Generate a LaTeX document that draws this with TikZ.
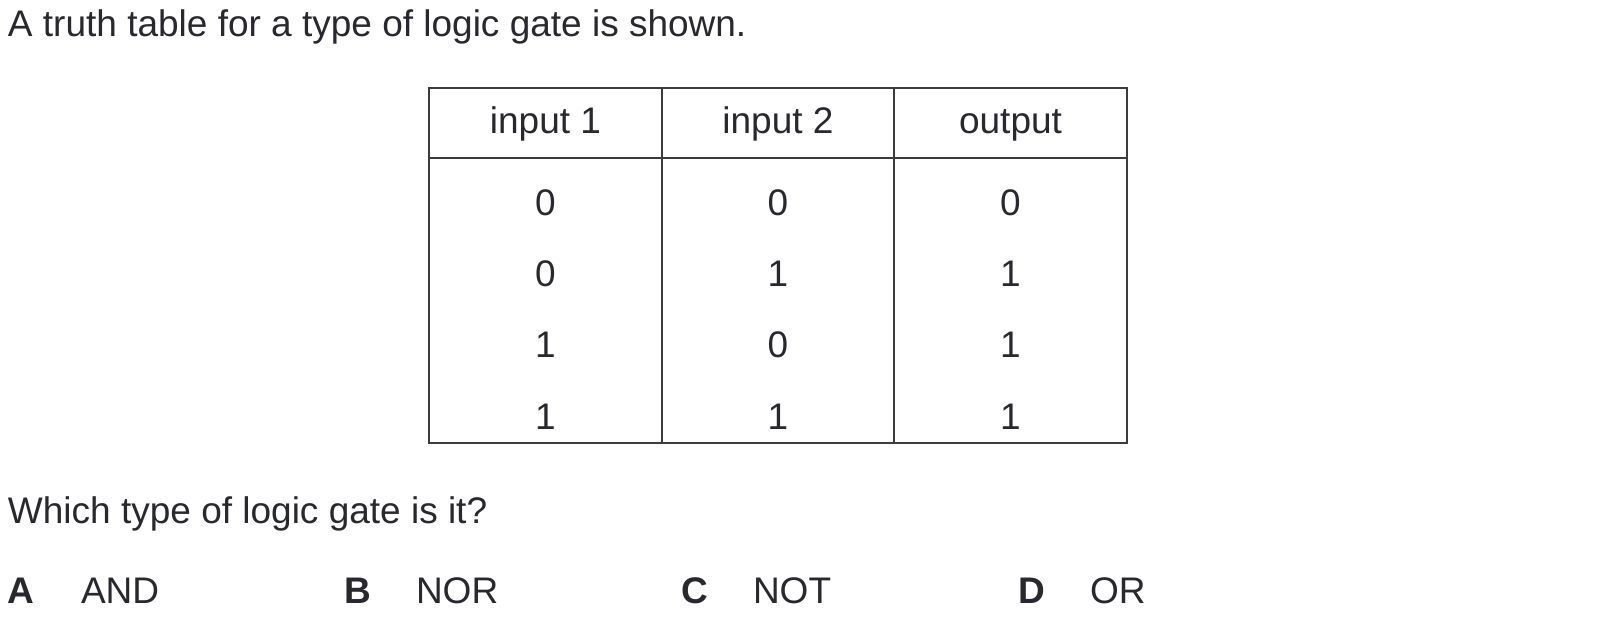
\documentclass[tikz,border=0pt]{standalone}
\usepackage{fontspec}
\setmainfont{Liberation Sans}
\begin{document}
\begin{tikzpicture}[x=1pt,y=-1pt,
  txt/.style={inner sep=0pt,outer sep=0pt,text=ink,font=\fontsize{37}{43}\selectfont},
  lbl/.style={txt,anchor=base west},
  cell/.style={txt,anchor=base},
  opt/.style={lbl,font=\fontsize{37}{43}\selectfont\bfseries},
  rule/.style={draw=grid,line width=2pt}]
\definecolor{ink}{RGB}{40,40,46}
\definecolor{grid}{RGB}{60,60,64}
\useasboundingbox (0,0) rectangle (1620,620);
\fill[white] (0,0) rectangle (1620,620);
% title
\node[lbl] (title) at (8,36.7) {A truth table for a type of logic gate is shown.};
% table
\draw[rule] (429,88) rectangle (1127,443);
\draw[rule] (429,158) -- (1127,158);
\draw[rule] (662,88) -- (662,443);
\draw[rule] (894,88) -- (894,443);
\node[cell] (h1) at (545.5,133.3) {input 1};
\node[cell] (h2) at (778,133.3) {input 2};
\node[cell] (h3) at (1010.5,133.3) {output};
\foreach \r/\a/\b/\c [count=\i] in {216/0/0/0, 287/0/1/1, 358/1/0/1, 429/1/1/1}{
  \node[cell] (r\i a) at (545.5,\r) {\a};
  \node[cell] (r\i b) at (778,\r) {\b};
  \node[cell] (r\i c) at (1010.5,\r) {\c};
}
% question
\node[lbl] (q) at (8,523) {Which type of logic gate is it?};
% options
\node[opt] (oA) at (8,603) {A};
\node[lbl] (tA) at (81,603) {AND};
\node[opt] (oB) at (344.5,603) {B};
\node[lbl] (tB) at (416,603) {NOR};
\node[opt] (oC) at (681,603) {C};
\node[lbl] (tC) at (753,603) {NOT};
\node[opt] (oD) at (1018,603) {D};
\node[lbl] (tD) at (1090,603) {OR};
\end{tikzpicture}
\end{document}
